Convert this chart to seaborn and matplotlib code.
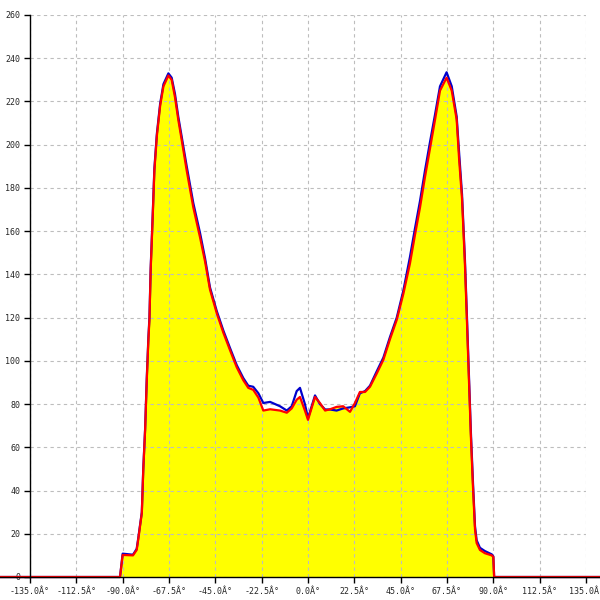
import matplotlib
matplotlib.use("Agg")
import matplotlib.pyplot as plt
import seaborn as sns
import pandas as pd

# angle (deg) and the two measured curves
angles = [-150, -91.3, -90.0, -85.0, -83.2, -82.5, -80.7, -80.0, -79.1, -78.3, -77.5,
          -77.0, -76.4, -75.4, -74.6, -73.4, -71.8, -70.2, -67.8, -66.2, -64.6,
          -63.0, -61.3, -58.9, -55.7, -52.4, -50.0, -47.6, -44.3, -41.1, -37.9,
          -34.6, -31.4, -29.0, -26.6, -24.1, -21.7, -18.4, -13.6, -10.3, -7.9,
          -5.5, -3.9, -1.5, 0.0, 3.4, 5.8, 8.3, 10.7, 13.9, 17.1,
          20.4, 22.8, 25.2, 27.7, 30.1, 33.3, 36.6, 39.8, 43.1, 46.3,
          49.5, 51.9, 54.4, 56.8, 59.2, 61.7, 64.1, 67.3, 69.8, 72.2,
          73.4, 74.8, 76.2, 77.2, 78.2, 79.1, 80.1, 81.1, 81.9, 83.5,
          85.9, 89.2, 90.0, 90.4, 150]

red_vals = [0, 0, 10.2, 10, 12.5, 17, 29.6, 49.5, 68, 91, 110,
            119, 142, 167, 188, 204, 218, 227, 232, 230, 222,
            211.6, 202, 188, 171, 157, 146, 133, 122, 113, 105,
            97, 91, 87.5, 86.6, 83, 77, 77.6, 77, 76, 78,
            82, 83.3, 77, 72.7, 83.3, 80.5, 77, 77.6, 78.7, 79,
            76.4, 80.5, 85.6, 85.6, 88, 94, 100.5, 110, 119, 131,
            145, 158, 171, 185, 198, 211.6, 225, 231, 225, 211.6,
            193, 175, 145, 118, 90, 65, 42, 22, 15.7, 12.5,
            11, 10, 9.3, 0, 0]

blue_vals = [0, 0, 10.8, 10.3, 13, 17.5, 30, 50, 68.5, 92, 111,
             120, 143, 168, 189, 205, 219, 228, 233, 231, 223.5,
             213, 203.5, 190, 173, 159, 147.5, 134, 123, 114, 106,
             98, 92, 88.5, 88, 85, 80.5, 81, 79, 77, 79,
             86, 87.5, 80, 73.5, 84, 80, 77.5, 77.5, 77, 78,
             78.5, 79, 85, 86, 88.5, 95, 101.5, 111, 120, 132.5,
             148, 161, 174, 188, 201, 214, 227, 233.5, 227, 213,
             196, 177, 147, 120, 92, 67, 44, 23.5, 17, 13.5,
             12, 10.5, 9.5, 0, 0]

xticks = [-135.0, -112.5, -90.0, -67.5, -45.0, -22.5, 0.0, 22.5, 45.0, 67.5, 90.0, 112.5, 135.0]
xtick_labels = [f"{t:.1f}Â°" for t in xticks]
yticks = list(range(0, 261, 20))

df = pd.DataFrame({"angle": angles, "red": red_vals, "blue": blue_vals})

sns.set_style("white")
plt.rcParams['font.family'] = ['DejaVu Sans Mono']

fig = plt.figure(figsize=(6, 6), dpi=100)
ax = fig.add_axes([30 / 600, 23 / 600, 556 / 600, 562 / 600])

ax.fill_between(df["angle"], df["red"], color="#ffff00", zorder=0.3, linewidth=0)
sns.lineplot(data=df, x="angle", y="blue", sort=False, estimator=None, ax=ax,
             color="#0000cc", linewidth=1.6, zorder=2)
sns.lineplot(data=df, x="angle", y="red", sort=False, estimator=None, ax=ax,
             color="#ff0000", linewidth=1.6, zorder=2.2)
for line in ax.lines:
    line.set_clip_on(False)

ax.set_xlim(-135, 135)
ax.set_ylim(0, 260)
ax.set_xticks(xticks)
ax.set_xticklabels(xtick_labels)
ax.set_yticks(yticks)
ax.set_xlabel("")
ax.set_ylabel("")

ax.grid(True, color="#bdbdbd", linestyle=(0, (3, 3)), linewidth=0.8)
ax.set_axisbelow(True)

for side in ["top", "right"]:
    ax.spines[side].set_visible(False)
for side in ["left", "bottom"]:
    ax.spines[side].set_color("black")
    ax.spines[side].set_linewidth(1.0)
ax.spines["bottom"].set_bounds(-150, 150)
ax.spines["bottom"].set_clip_on(False)

ax.tick_params(axis="both", direction="out", length=4, width=1, color="black",
               labelsize=6, pad=3, bottom=True, left=True)

fig.savefig("out.png", dpi=100, facecolor="white")
